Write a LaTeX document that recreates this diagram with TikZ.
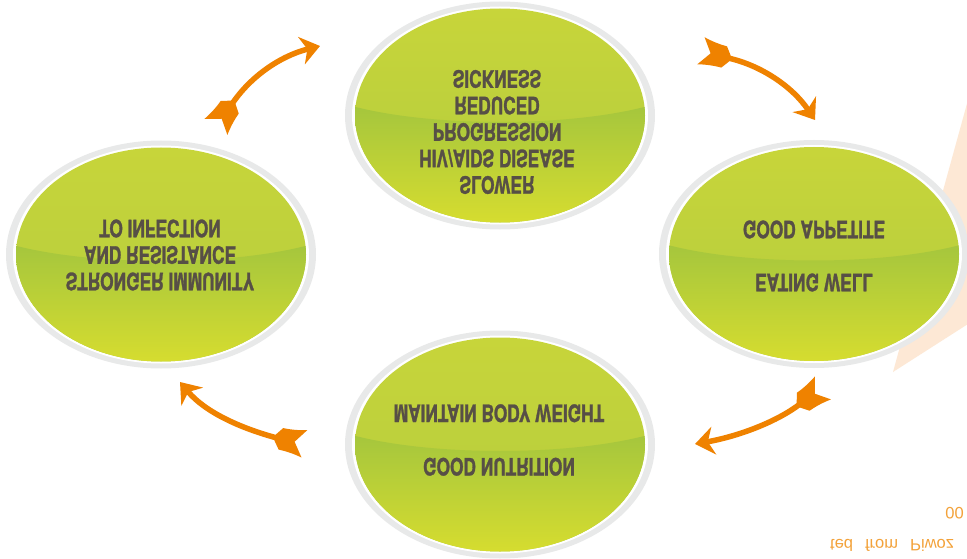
\documentclass[tikz,border=0pt]{standalone}
\usepackage{fontspec}
\setmainfont{Liberation Sans}
\newfontfamily\bubblefont{TeX Gyre Heros}[FakeStretch=0.72, FakeBold=1.2]
\usetikzlibrary{arrows.meta}
\definecolor{arrorange}{HTML}{EF8200}
\definecolor{ringgray}{HTML}{E8E9E9}
\definecolor{gtop}{HTML}{C8D53A}
\definecolor{gmid}{HTML}{B2CC3E}
\definecolor{gband}{HTML}{A5C63D}
\definecolor{gbot}{HTML}{D7DD2F}
\definecolor{txtbrown}{HTML}{574F46}
\definecolor{peach}{HTML}{FDE8D5}
\definecolor{srcorange}{HTML}{F3A23A}
\tikzset{
  bubble/.pic={
    \fill[ringgray] (0,0) ellipse [x radius=155pt, y radius=114pt];
    \fill[white] (0,0) ellipse [x radius=148pt, y radius=109pt];
    \begin{scope}
      \clip (0,0) ellipse [x radius=145pt, y radius=107pt];
      \shade[top color=gtop, bottom color=gmid] (-150,-110) rectangle (150,110);
      \shade[top color=gband, bottom color=gbot]
        (-150,-10) .. controls (-70,12) and (70,12) .. (150,-10)
        -- (150,110) -- (-150,110) -- cycle;
    \end{scope}
  },
  fletch/.pic={
    \fill[arrorange] (2,-3) -- (2,3) -- (-4,11)
      .. controls (-12,11) and (-20,12) .. (-28,14) -- (-18,0) -- (-28,-14)
      .. controls (-20,-12) and (-12,-11) .. (-4,-11) -- cycle;
  },
  cyc/.style={draw=arrorange, line width=5.5pt,
    -{Stealth[length=19pt,width=28pt,inset=6pt]}},
  label/.style={yscale=-1, align=center, text=txtbrown,
    font=\bubblefont\bfseries\fontsize{24}{26.5}\selectfont},
  src/.style={yscale=-1, text=srcorange, font=\fontsize{16.5}{18}\selectfont, inner sep=0pt}
}
\begin{document}
\begin{tikzpicture}[x=1pt,y=-1pt]
\useasboundingbox (0,0) rectangle (967,559);
\fill[white] (0,0) rectangle (967,559);
% peach background wedge
\fill[peach] (968,100) -- (893,372) -- (968,324) -- cycle;
% bubbles
\pic at (500,115.5) {bubble};
\pic at (814,254) {bubble};
\pic at (161,254.5) {bubble};
\pic at (500,444.5) {bubble};
% texts
\node[label] (top) at (497,132) {SLOWER\\HIV/AIDS DISEASE\\PROGRESSION\\REDUCED\\SICKNESS};
\node[label] (right) at (814,256) {EATING WELL\\[26.5pt]GOOD APPETITE};
\node[label] (left) at (160,255) {STRONGER IMMUNITY\\AND RESISTANCE\\TO INFECTION};
\node[label] (bottom) at (499,440) {GOOD NUTRITION\\[27pt]MAINTAIN BODY WEIGHT};
% arrows
\coordinate (a1s) at (232,104); \coordinate (a1e) at (320,46);
\coordinate (a2s) at (728,58);  \coordinate (a2e) at (815,120);
\coordinate (a3s) at (800,404); \coordinate (a3e) at (695,444);
\coordinate (a4s) at (277,438); \coordinate (a4e) at (180,382);
\draw[cyc] (a1s) .. controls (250,77) and (280,56) .. (a1e);
\draw[cyc] (a2s) .. controls (760,65) and (792,86) .. (a2e);
\draw[cyc] (a3s) .. controls (778,421) and (740,436) .. (a3e);
\draw[cyc] (a4s) .. controls (240,428) and (205,412) .. (a4e);
\pic[rotate=55] at (a1s) {fletch};
\pic[rotate=-15] at (a2s) {fletch};
\pic[rotate=215] at (a3s) {fletch};
\pic[rotate=168] at (a4s) {fletch};
% source note
\node[src, anchor=west] (srcA) at (830,545) {ted\hspace{12pt}from\hspace{12pt}Piwoz};
\node[src, anchor=east] (srcB) at (964,513) {00};
\end{tikzpicture}
\end{document}
